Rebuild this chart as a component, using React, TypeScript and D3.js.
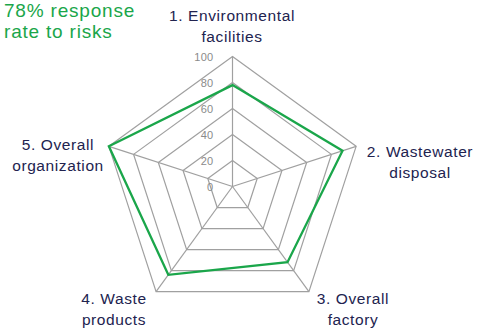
import React from "react";
import * as d3 from "d3";

const axes = ["1. Environmental|facilities", "2. Wastewater|disposal", "3. Overall|factory", "4. Waste|products", "5. Overall|organization"];
const values = [78, 89, 72, 84, 100];
const ticks = [0, 20, 40, 60, 80, 100];
const titleLines = ["78% response", "rate to risks"];

const W = 478, H = 336;
const cx = 232.5, cy = 186.5, R = 130;
const labelPos = [
  { x: 232, y: 21 },
  { x: 420, y: 157 },
  { x: 353, y: 304 },
  { x: 114, y: 304 },
  { x: 58, y: 150 },
];

export default function App() {
  const r = d3.scaleLinear().domain([0, 100]).range([0, R]);
  const angle = (i: number) => (i * 2 * Math.PI) / axes.length;
  const pt = (i: number, v: number): [number, number] => [
    cx + r(v) * Math.sin(angle(i)),
    cy - r(v) * Math.cos(angle(i)),
  ];
  const line = d3.line().curve(d3.curveLinearClosed);
  const rings = ticks.filter((t) => t > 0);
  const font = "'Liberation Sans', Arial, sans-serif";
  return (
    <svg width={W} height={H} style={{ position: "absolute", left: 0, top: 0 }}>
      <rect width={W} height={H} fill="#fff" />
      {rings.map((t) => (
        <path key={t} d={line(axes.map((_, i) => pt(i, t))) || ""} fill="none" stroke="#a0a0a0" strokeWidth={1.2} />
      ))}
      {axes.map((_, i) => {
        const [x, y] = pt(i, 100);
        return <line key={i} x1={cx} y1={cy} x2={x} y2={y} stroke="#a0a0a0" strokeWidth={1.2} />;
      })}
      <path d={line(values.map((v, i) => pt(i, v))) || ""} fill="none" stroke="#1aa64a" strokeWidth={2.3} strokeLinejoin="miter" />
      {ticks.map((t) => (
        <text key={t} x={cx - 19} y={cy - r(t) + 4} textAnchor="end" fontSize={11} letterSpacing={0.3} fill="#8a8a8a" fontFamily={font}>
          {t}
        </text>
      ))}
      {axes.map((a, i) => (
        <text key={i} x={labelPos[i].x} y={labelPos[i].y} textAnchor="middle" fontSize={15.5} letterSpacing={0.6} fill="#22234f" fontFamily={font}>
          {a.split("|").map((s, k) => (
            <tspan key={k} x={labelPos[i].x} dy={k === 0 ? 0 : 21}>
              {s}
            </tspan>
          ))}
        </text>
      ))}
      <text x={4} y={17} fontSize={19} letterSpacing={0.8} fill="#1aa64a" fontFamily={font}>
        {titleLines.map((s, k) => (
          <tspan key={k} x={4} dy={k === 0 ? 0 : 21}>
            {s}
          </tspan>
        ))}
      </text>
    </svg>
  );
}
